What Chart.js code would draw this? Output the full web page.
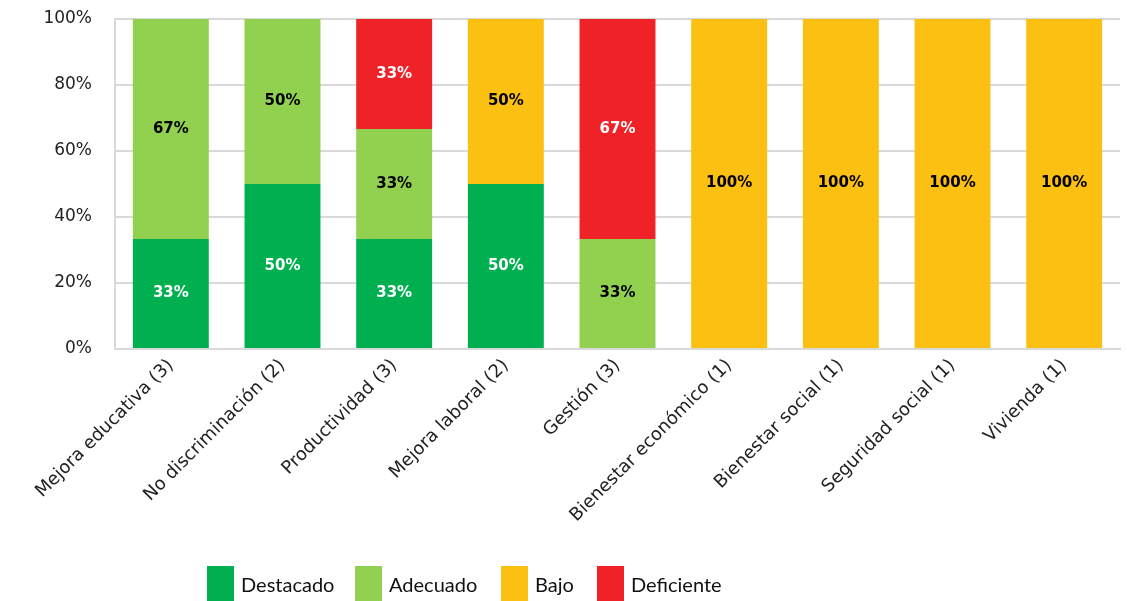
<!DOCTYPE html>
<html>
<head>
<meta charset="utf-8">
<script src="https://cdn.jsdelivr.net/npm/chart.js@4"></script>
<style>
  html, body { margin: 0; padding: 0; background: #fff; }
  #wrap { position: relative; width: 1127px; height: 601px; }
  #leyenda { font-family: Lato, sans-serif; font-size: 20px; color: #111; }
  #leyenda .item { position: absolute; top: 566px; display: flex; align-items: center; }
  #leyenda .caja { width: 27px; height: 35px; margin-right: 7px; }
</style>
</head>
<body>
<div id="wrap">
  <canvas id="myChart"></canvas>
  <div id="leyenda"></div>
</div>
<script>
// datos
const categorias = ['Mejora educativa (3)', 'No discriminación (2)', 'Productividad (3)', 'Mejora laboral (2)',
  'Gestión (3)', 'Bienestar económico (1)', 'Bienestar social (1)', 'Seguridad social (1)', 'Vivienda (1)'];
const series = ['Destacado', 'Adecuado', 'Bajo', 'Deficiente'];
const destacado  = [33.33, 50, 33.33, 50, 0, 0, 0, 0, 0];
const adecuado   = [66.67, 50, 33.33, 0, 33.33, 0, 0, 0, 0];
const bajo       = [0, 0, 0, 50, 0, 100, 100, 100, 100];
const deficiente = [0, 0, 33.33, 0, 66.67, 0, 0, 0, 0];
const ticksY = [0, 20, 40, 60, 80, 100];

const colores = ['#00b050', '#92d050', '#fcc013', '#ee2227'];
const coloresTexto = ['#fff', '#000', '#000', '#fff'];
const fuente = "'DejaVu Sans', sans-serif";
const leyendaX = [207, 355, 501, 597]; // posicion de cada elemento de la leyenda

// etiquetas dentro de las barras
const etiquetas = {
  id: 'etiquetas',
  afterDatasetsDraw(chart) {
    const c = chart.ctx;
    chart.data.datasets.forEach((ds, i) => {
      const meta = chart.getDatasetMeta(i);
      meta.data.forEach((bar, j) => {
        const v = ds.data[j];
        if (!v) return;
        c.save();
        c.font = 'bold 15px ' + fuente;
        c.fillStyle = coloresTexto[i];
        c.textAlign = 'center';
        c.textBaseline = 'middle';
        c.fillText(Math.round(v) + '%', bar.x, (bar.y + bar.base) / 2);
        c.restore();
      });
    });
  }
};

let ctx = document.getElementById('myChart');

let config = {
  type: 'bar',
  data: {
    labels: categorias,
    datasets: [destacado, adecuado, bajo, deficiente].map((d, i) => ({
      label: series[i], data: d, backgroundColor: colores[i]
    }))
  },
  options: {
    responsive: true,
    maintainAspectRatio: false,
    animation: false,
    datasets: { bar: { barPercentage: 0.68, categoryPercentage: 1 } },
    layout: { padding: { top: 19, right: 7, left: 0, bottom: 0 } },
    plugins: {
      legend: { display: false },
      tooltip: { enabled: false }
    },
    scales: {
      x: {
        stacked: true,
        grid: { display: false, drawTicks: false },
        border: { color: '#d9d9d9', width: 2 },
        afterFit: (axis) => { axis.height = 252; },
        ticks: {
          color: '#222',
          font: { size: 18, family: fuente },
          maxRotation: 45,
          minRotation: 45,
          padding: 6
        }
      },
      y: {
        stacked: true,
        min: 0,
        max: 100,
        grid: { color: '#d9d9d9', lineWidth: 2, drawTicks: false },
        border: { color: '#d9d9d9', width: 2 },
        afterFit: (axis) => {
          axis.width = 115;
          axis.paddingTop = 0;
          axis.paddingBottom = 0;
        },
        afterBuildTicks: (axis) => { axis.ticks = ticksY.map(v => ({ value: v })); },
        ticks: {
          color: '#222',
          font: { size: 17, family: fuente },
          padding: 23,
          callback: (v) => v + '%'
        }
      }
    }
  },
  plugins: [etiquetas]
};

let myChart = new Chart(ctx, config);

// leyenda
const leyenda = document.getElementById('leyenda');
series.forEach((s, i) => {
  const item = document.createElement('div');
  item.className = 'item';
  item.style.left = leyendaX[i] + 'px';
  item.innerHTML = '<span class="caja" style="background:' + colores[i] + '"></span><span>' + s + '</span>';
  leyenda.appendChild(item);
});
</script>
</body>
</html>
